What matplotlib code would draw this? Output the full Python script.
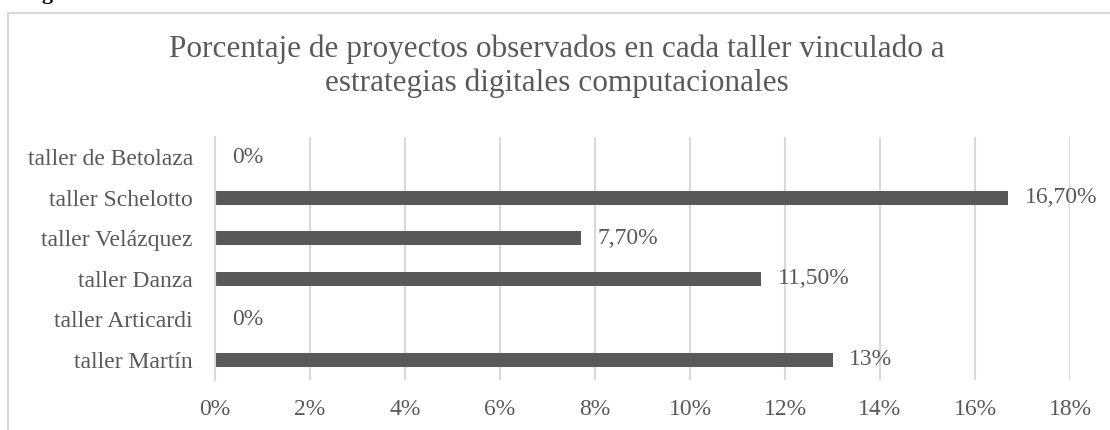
import matplotlib
matplotlib.use("Agg")
import matplotlib.pyplot as plt
from matplotlib.patches import Rectangle
from matplotlib.ticker import MultipleLocator, FuncFormatter

plt.rcParams['font.family'] = ['Liberation Serif']

talleres = ["taller Martín", "taller Articardi", "taller Danza",
            "taller Velázquez", "taller Schelotto", "taller de Betolaza"]
porcentajes = [13.0, 0.0, 11.5, 7.7, 16.7, 0.0]
etiquetas = ["13%", "0%", "11,50%", "7,70%", "16,70%", "0%"]

gris = '#595959'
grid = '#d9d9d9'

fig = plt.figure(figsize=(11.1, 4.3), dpi=100)
ax = fig.add_axes([215 / 1110, 1 - 380 / 430, (1070 - 215) / 1110, (380 - 137) / 430])

# chart frame (cut by the page edges)
fig.patches.append(Rectangle((8 / 1110, -0.1), 1.2, 1 - 13 / 430 + 0.1,
                             transform=fig.transFigure, fill=False,
                             edgecolor=grid, linewidth=1.5))
fig.text(23 / 1110, 1 + 1 / 430, "Fig", fontsize=16, fontweight='bold',
         color='black', va='baseline', ha='left')

y = range(len(talleres))
ax.barh(y, porcentajes, height=0.35, color=gris)
for yi, v, lab in zip(y, porcentajes, etiquetas):
    ax.annotate(lab, (v, yi), xytext=(12, 0), textcoords='offset points',
                va='center', ha='left', fontsize=17, color=gris)

ax.set_xlim(0, 18)
ax.set_ylim(-0.5, len(talleres) - 0.5)
ax.xaxis.set_major_locator(MultipleLocator(2))
ax.xaxis.set_major_formatter(FuncFormatter(lambda v, p: f"{v:.0f}%"))
ax.set_yticks(list(y))
ax.set_yticklabels(talleres)
ax.grid(axis='x', color=grid, linewidth=1.5)
ax.set_axisbelow(True)
for s in ['top', 'right', 'bottom']:
    ax.spines[s].set_visible(False)
ax.spines['left'].set_color(grid)
ax.spines['left'].set_linewidth(1.5)
ax.tick_params(axis='both', length=0, labelsize=17, colors=gris)
ax.tick_params(axis='x', pad=14)
ax.tick_params(axis='y', pad=16)

fig.text(557 / 1110, 1 - 66 / 430,
         "Porcentaje de proyectos observados en cada taller vinculado a\nestrategias digitales computacionales",
         ha='center', va='center', fontsize=22.5, color=gris, linespacing=1.2)

fig.savefig("out.png", dpi=100)
